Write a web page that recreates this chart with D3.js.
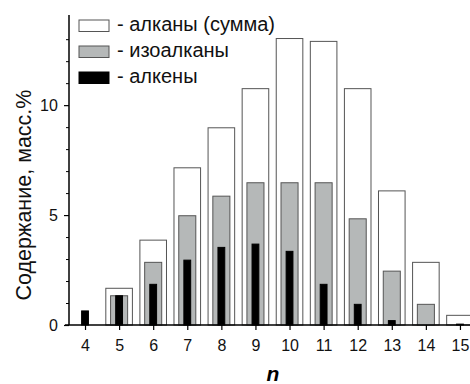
<!DOCTYPE html>
<html>
<head>
<meta charset="utf-8">
<script src="https://cdn.jsdelivr.net/npm/d3@7"></script>
<style>
  body { margin: 0; background: #fff; }
  svg { font-family: "Liberation Sans", Arial, sans-serif; }
</style>
</head>
<body>
<div id="chart"></div>
<script>
// carbon number n
const nValues = [4, 5, 6, 7, 8, 9, 10, 11, 12, 13, 14, 15];
const alkanesSum = [0, 1.67, 3.86, 7.15, 8.97, 10.75, 13.03, 12.9, 10.75, 6.1, 2.85, 0.44];
const isoAlkanes = [0, 1.33, 2.85, 4.97, 5.86, 6.47, 6.47, 6.47, 4.83, 2.45, 0.94, 0];
const alkenes = [0.64, 1.33, 1.85, 2.95, 3.53, 3.68, 3.35, 1.85, 0.94, 0.2, 0, 0.04];
const yTicks = [0, 5, 10];
const legendLabels = ["- алканы (сумма)", "- изоалканы", "- алкены"];

const width = 470, height = 384;
const svg = d3.select("#chart").append("svg")
    .attr("width", width)
    .attr("height", height);

const x = d3.scaleLinear().domain([3.53, 15.5]).range([69, 477]);
const y = d3.scaleLinear().domain([0, 14.1]).range([325, 15]);

const series = [
    { values: alkanesSum, w: 0.78, fill: "#fff", stroke: "#555" },
    { values: isoAlkanes, w: 0.5, fill: "#b5b8b8", stroke: "#555" },
    { values: alkenes, w: 0.2, fill: "#000", stroke: "#000" }
];

series.forEach(function (s) {
    svg.selectAll(null)
        .data(nValues.map((n, i) => ({ n: n, v: s.values[i] })).filter(d => d.v > 0))
        .enter()
        .append("rect")
        .attr("x", d => x(d.n - s.w / 2))
        .attr("y", d => y(d.v))
        .attr("width", d => x(d.n + s.w / 2) - x(d.n - s.w / 2))
        .attr("height", d => y(0) - y(d.v))
        .attr("fill", s.fill)
        .attr("stroke", s.stroke)
        .attr("stroke-width", 1);
});

// axes
const yAxis = svg.append("g")
    .attr("transform", "translate(69,0)")
    .call(d3.axisLeft(y).tickValues(yTicks).tickSize(5).tickFormat(d3.format("d")));
svg.append("g")
    .attr("transform", "translate(69,0)")
    .call(d3.axisLeft(y).tickValues(d3.range(1, 14).filter(v => v % 5 !== 0)).tickSize(3).tickFormat(""))
    .call(g => g.select(".domain").remove());
const xAxis = svg.append("g")
    .attr("transform", "translate(0,325)")
    .call(d3.axisBottom(x).tickValues(nValues).tickSize(5).tickFormat(d3.format("d")));

[yAxis, xAxis].forEach(function (g) {
    g.select(".domain").attr("stroke", "#000").attr("stroke-width", 1.5);
    g.selectAll(".tick line").attr("stroke", "#000").attr("stroke-width", 1.2);
    g.selectAll(".tick text").attr("font-size", 16).attr("fill", "#111")
        .attr("font-family", "'Liberation Sans', Arial, sans-serif");
});
yAxis.select(".domain").attr("d", "M0," + y(0) + "V" + y(14.1));
xAxis.select(".domain").attr("d", "M65,0H" + width);
xAxis.selectAll(".tick text").attr("dy", "1.1em");
yAxis.selectAll(".tick text").attr("dx", "-0.2em");

// axis titles
svg.append("text")
    .attr("transform", "translate(31,195) rotate(-90)")
    .attr("text-anchor", "middle")
    .attr("font-size", 21.5)
    .attr("fill", "#111")
    .text("Содержание, масс.%");
svg.append("text")
    .attr("x", 273)
    .attr("y", 381)
    .attr("text-anchor", "middle")
    .attr("font-size", 21)
    .attr("font-weight", "bold")
    .attr("font-style", "italic")
    .text("n");

// legend
const legend = svg.selectAll("g.legend")
    .data(series)
    .enter()
    .append("g")
    .attr("class", "legend")
    .attr("transform", (d, i) => "translate(79," + (20 + i * 26) + ")");
legend.append("rect")
    .attr("width", 30)
    .attr("height", 11.5)
    .attr("fill", d => d.fill)
    .attr("stroke", d => d.stroke);
legend.append("text")
    .attr("x", 38)
    .attr("y", 11)
    .attr("font-size", 20)
    .attr("fill", "#111")
    .text((d, i) => legendLabels[i]);
</script>
</body>
</html>
